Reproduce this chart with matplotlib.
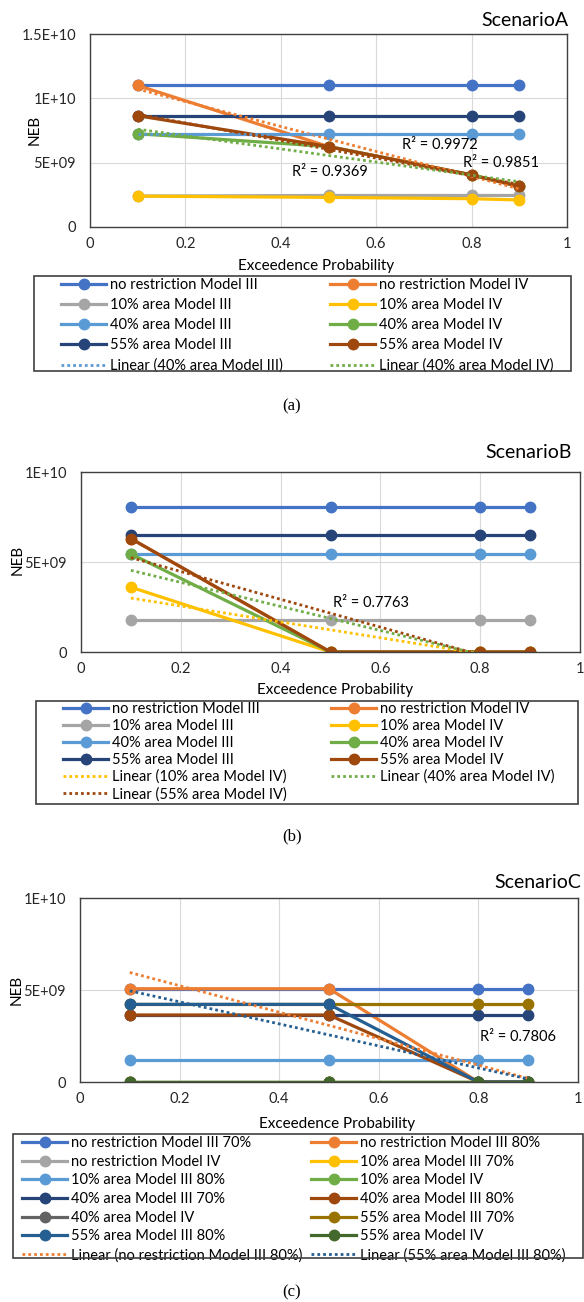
import matplotlib
matplotlib.use("Agg")
import matplotlib.pyplot as plt
import numpy as np
from matplotlib.patches import Rectangle

plt.rcParams['font.family'] = ['Lato', 'DejaVu Sans']

W, H = 584, 1302

# exceedence probabilities (x values)
prob = [0.1, 0.5, 0.8, 0.9]

# Scenario A, NEB in units of 1E+09
a_norestr_m3 = [11.0, 11.0, 11.0, 11.0]
a_norestr_m4 = [11.0, 6.25, 4.05, 3.15]
a_10_m3 = [2.4, 2.45, 2.45, 2.45]
a_10_m4 = [2.4, 2.3, 2.2, 2.1]
a_40_m3 = [7.25, 7.25, 7.25, 7.25]
a_40_m4 = [7.25, 6.25, 4.05, 3.15]
a_55_m3 = [8.65, 8.65, 8.65, 8.65]
a_55_m4 = [8.65, 6.25, 4.05, 3.15]

# Scenario B
b_norestr_m3 = [8.05, 8.05, 8.05, 8.05]
b_norestr_m4 = [6.3, 0.0, 0.0, 0.0]
b_10_m3 = [1.8, 1.8, 1.8, 1.8]
b_10_m4 = [3.6, 0.0, 0.0, 0.0]
b_40_m3 = [5.45, 5.45, 5.45, 5.45]
b_40_m4 = [5.45, 0.0, 0.0, 0.0]
b_55_m3 = [6.5, 6.5, 6.5, 6.5]
b_55_m4 = [6.3, 0.0, 0.0, 0.0]

# Scenario C
c_norestr_m3_70 = [5.07, 5.07, 5.07, 5.07]
c_norestr_m3_80 = [5.07, 5.07, 0.0, 0.0]
c_norestr_m4 = [0.0, 0.0, 0.0, 0.0]
c_10_m3_70 = [0.0, 0.0, 0.0, 0.0]
c_10_m3_80 = [1.17, 1.17, 1.17, 1.17]
c_10_m4 = [0.0, 0.0, 0.0, 0.0]
c_40_m3_70 = [3.64, 3.64, 3.64, 3.64]
c_40_m3_80 = [3.64, 3.64, 0.0, 0.0]
c_40_m4 = [0.0, 0.0, 0.0, 0.0]
c_55_m3_70 = [4.22, 4.22, 4.22, 4.22]
c_55_m3_80 = [4.22, 4.22, 0.0, 0.0]
c_55_m4 = [0.0, 0.0, 0.0, 0.0]

# Excel office palette
colors = ['#4472C4', '#ED7D31', '#A5A5A5', '#FFC000', '#5B9BD5', '#70AD47',
          '#264478', '#9E480E', '#636363', '#997300', '#255E91', '#43682B']


def px_rect(l, t, r, b):
    return [l / W, 1 - b / H, (r - l) / W, (b - t) / H]


def fx(x):
    return x / W


def fy(y):
    return 1 - y / H


fig = plt.figure(figsize=(W / 100, H / 100), dpi=100)


def setup_axes(rect, ymax, yticks, ylabels):
    ax = fig.add_axes(rect)
    ax.set_xlim(0, 1)
    ax.set_ylim(0, ymax)
    ax.set_xticks([0, 0.2, 0.4, 0.6, 0.8, 1.0], ['0', '0.2', '0.4', '0.6', '0.8', '1'])
    ax.set_yticks(yticks, ylabels)
    ax.grid(True, color='#D9D9D9', lw=0.8)
    ax.set_axisbelow(True)
    ax.tick_params(length=0, labelsize=10.5, colors='#262626')
    ax.tick_params(axis='x', pad=7)
    ax.tick_params(axis='y', pad=10)
    for s in ax.spines.values():
        s.set_color('#404040')
        s.set_linewidth(1.0)
    return ax


def draw(ax, series, names, trends):
    handles = []
    for vals, name, col in zip(series, names, colors):
        h, = ax.plot(prob, vals, color=col, lw=2.3, marker='o', ms=7.5, label=name)
        handles.append(h)
    trend_handles = []
    for idx, name, show in trends:
        k, c = np.polyfit(prob, series[idx], 1)
        xs = np.array([prob[0], prob[-1]])
        h, = ax.plot(xs, k * xs + c, color=colors[idx], lw=2.0,
                     ls=(0, (1, 1.1)), zorder=5, label=name)
        if show:
            trend_handles.append(h)
    return handles + trend_handles


def legend(ax, handles, box, x_left, x_right, top_y, spacing):
    l, t, r, b = box
    fig.add_artist(Rectangle((fx(l), fy(b)), (r - l) / W, (b - t) / H,
                             transform=fig.transFigure, fill=False,
                             ec='#404040', lw=1.2))
    kw = dict(loc='upper left', bbox_transform=fig.transFigure, frameon=False,
              fontsize=10.5, borderpad=0, borderaxespad=0, handlelength=3.1,
              handletextpad=0.25, labelspacing=spacing)
    left = handles[0::2]
    right = handles[1::2]
    lg = ax.legend(left, [h.get_label() for h in left],
                   bbox_to_anchor=(fx(x_left), fy(top_y)), **kw)
    ax.add_artist(lg)
    ax.legend(right, [h.get_label() for h in right],
              bbox_to_anchor=(fx(x_right), fy(top_y)), **kw)


# ---- Scenario A
axA = setup_axes(px_rect(90, 34, 567, 227), 15, [0, 5, 10, 15],
                 ['0', '5E+09', '1E+10', '1.5E+10'])
seriesA = [a_norestr_m3, a_norestr_m4, a_10_m3, a_10_m4,
           a_40_m3, a_40_m4, a_55_m3, a_55_m4]
namesA = ['no restriction Model III', 'no restriction Model IV',
          '10% area Model III', '10% area Model IV',
          '40% area Model III', '40% area Model IV',
          '55% area Model III', '55% area Model IV']
hA = draw(axA, seriesA, namesA,
          [(1, 'Linear (no restriction Model IV)', False),
           (4, 'Linear (40% area Model III)', True),
           (5, 'Linear (40% area Model IV)', True),
           (7, 'Linear (55% area Model IV)', False)])
axA.text(0.654, 6.4, 'R² = 0.9972', fontsize=10.5, va='center')
axA.text(0.782, 5.0, 'R² = 0.9851', fontsize=10.5, va='center')
axA.text(0.424, 4.3, 'R² = 0.9369', fontsize=10.5, va='center')
fig.text(fx(568), fy(20), 'ScenarioA', ha='right', va='center', fontsize=14)
fig.text(fx(316), fy(266), 'Exceedence Probability', ha='center', va='center', fontsize=11)
fig.text(fx(35), fy(130), 'NEB', ha='center', va='center', rotation=90, fontsize=11)
legend(axA, hA, (34, 276, 571, 371), 61, 330, 278, 0.42)
fig.text(fx(292), fy(406), '(a)', ha='center', va='center', fontsize=12,
         family='Liberation Serif')

# ---- Scenario B
axB = setup_axes(px_rect(81, 472, 580, 652), 10, [0, 5, 10], ['0', '5E+09', '1E+10'])
seriesB = [b_norestr_m3, b_norestr_m4, b_10_m3, b_10_m4,
           b_40_m3, b_40_m4, b_55_m3, b_55_m4]
hB = draw(axB, seriesB, namesA,
          [(3, 'Linear (10% area Model IV)', True),
           (5, 'Linear (40% area Model IV)', True),
           (7, 'Linear (55% area Model IV)', True)])
axB.text(0.505, 2.7, 'R² = 0.7763', fontsize=10.5, va='center')
fig.text(fx(572), fy(452), 'ScenarioB', ha='right', va='center', fontsize=14)
fig.text(fx(335), fy(690), 'Exceedence Probability', ha='center', va='center', fontsize=11)
fig.text(fx(18), fy(560), 'NEB', ha='center', va='center', rotation=90, fontsize=11)
legend(axB, hB, (36, 701, 578, 804), 63, 331, 702, 0.2)
fig.text(fx(292), fy(836), '(b)', ha='center', va='center', fontsize=12,
         family='Liberation Serif')

# ---- Scenario C
axC = setup_axes(px_rect(80, 898, 578, 1082), 10, [0, 5, 10], ['0', '5E+09', '1E+10'])
seriesC = [c_norestr_m3_70, c_norestr_m3_80, c_norestr_m4, c_10_m3_70,
           c_10_m3_80, c_10_m4, c_40_m3_70, c_40_m3_80,
           c_40_m4, c_55_m3_70, c_55_m3_80, c_55_m4]
namesC = ['no restriction Model III 70%', 'no restriction Model III 80%',
          'no restriction Model IV', '10% area Model III 70%',
          '10% area Model III 80%', '10% area Model IV',
          '40% area Model III 70%', '40% area Model III 80%',
          '40% area Model IV', '55% area Model III 70%',
          '55% area Model III 80%', '55% area Model IV']
hC = draw(axC, seriesC, namesC,
          [(1, 'Linear (no restriction Model III 80%)', True),
           (10, 'Linear (55% area Model III 80%)', True)])
axC.text(0.803, 2.45, 'R² = 0.7806', fontsize=10.5, va='center')
fig.text(fx(581), fy(883), 'ScenarioC', ha='right', va='center', fontsize=14)
fig.text(fx(337), fy(1124), 'Exceedence Probability', ha='center', va='center', fontsize=11)
fig.text(fx(17), fy(990), 'NEB', ha='center', va='center', rotation=90, fontsize=11)
legend(axC, hC, (13, 1134, 583, 1258), 22, 311, 1136, 0.32)
fig.text(fx(292), fy(1292), '(c)', ha='center', va='center', fontsize=12,
         family='Liberation Serif')

fig.savefig('out.png', dpi=100)
